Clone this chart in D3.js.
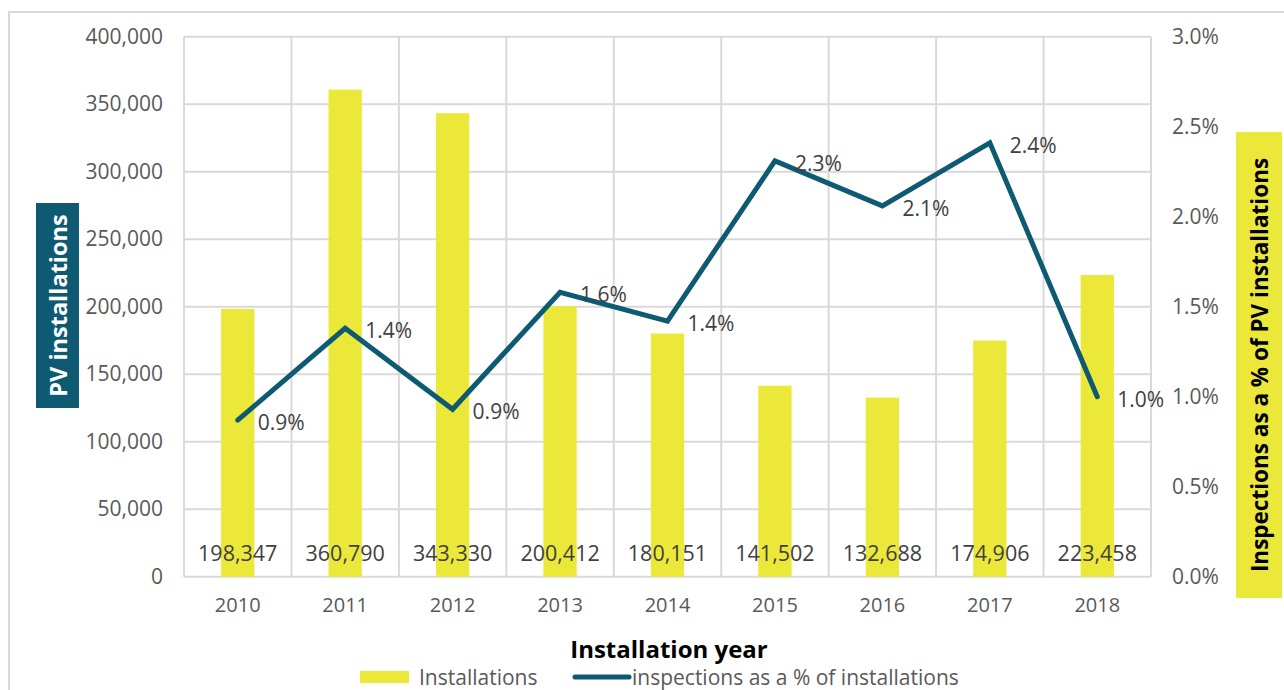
<!DOCTYPE html>
<html>
<head>
<meta charset="utf-8">
<script src="https://cdn.jsdelivr.net/npm/d3@7"></script>
<style>
  html, body { margin: 0; padding: 0; background: #fff; }
  svg { display: block; font-family: "Open Sans", sans-serif; }
</style>
</head>
<body>
<svg id="chart" width="1284" height="690"></svg>
<script>
// PV installations per year and inspections as a share of installations
const years = ["2010", "2011", "2012", "2013", "2014", "2015", "2016", "2017", "2018"];
const installations = [198347, 360790, 343330, 200412, 180151, 141502, 132688, 174906, 223458];
const inspectionPct = [0.0087, 0.0138, 0.0093, 0.0158, 0.0142, 0.0231, 0.0206, 0.0241, 0.0100];
const leftTicks = [0, 50000, 100000, 150000, 200000, 250000, 300000, 350000, 400000];
const rightTicks = [0, 0.005, 0.01, 0.015, 0.02, 0.025, 0.03];

const YELLOW = "#ECE83A";
const TEAL = "#0D5A72";
const GRID = "#D9D9D9";
const TICK_TXT = "#595959";
const LABEL_TXT = "#404040";

const svg = d3.select("#chart");
const W = 1284, H = 690;
const plot = { left: 184, right: 1151, top: 36.7, bottom: 576.7 };

// outer chart frame
svg.append("rect")
  .attr("x", 9).attr("y", 12)
  .attr("width", W + 20).attr("height", H + 20)
  .attr("fill", "none").attr("stroke", GRID).attr("stroke-width", 2);

const x = d3.scaleBand().domain(years).range([plot.left, plot.right]).padding(0);
const yL = d3.scaleLinear().domain([0, 400000]).range([plot.bottom, plot.top]);
const yR = d3.scaleLinear().domain([0, 0.03]).range([plot.bottom, plot.top]);

// horizontal gridlines
svg.append("g").selectAll("line").data(leftTicks).join("line")
  .attr("x1", plot.left).attr("x2", plot.right)
  .attr("y1", d => yL(d)).attr("y2", d => yL(d))
  .attr("stroke", GRID).attr("stroke-width", 2);

// vertical gridlines at category boundaries
const bounds = years.map(d => x(d)).concat([x(years[years.length - 1]) + x.bandwidth()]);
svg.append("g").selectAll("line").data(bounds).join("line")
  .attr("x1", d => d).attr("x2", d => d)
  .attr("y1", plot.top).attr("y2", plot.bottom)
  .attr("stroke", GRID).attr("stroke-width", 2);

// bars
const barW = x.bandwidth() * 0.31;
svg.append("g").selectAll("rect").data(installations).join("rect")
  .attr("x", (d, i) => x(years[i]) + x.bandwidth() / 2 - barW / 2)
  .attr("y", d => yL(d))
  .attr("width", barW)
  .attr("height", d => yL(0) - yL(d))
  .attr("fill", YELLOW);

// bar value labels near the base
const fmtInt = d3.format(",");
svg.append("g").selectAll("text").data(installations).join("text")
  .attr("x", (d, i) => x(years[i]) + x.bandwidth() / 2)
  .attr("y", 552)
  .attr("text-anchor", "middle").attr("dominant-baseline", "central")
  .attr("font-size", 21.5).attr("fill", LABEL_TXT)
  .text(d => fmtInt(d));

// left axis
const axisL = d3.axisLeft(yL).tickValues(leftTicks).tickFormat(d3.format(",")).tickSize(0).tickPadding(21);
const gL = svg.append("g").attr("transform", `translate(${plot.left},0)`).call(axisL);
gL.select(".domain").remove();
gL.selectAll("text").attr("font-size", 21).attr("fill", TICK_TXT).attr("font-family", "Open Sans");

// right axis
const axisR = d3.axisRight(yR).tickValues(rightTicks).tickFormat(d3.format(".1%")).tickSize(0).tickPadding(21);
const gR = svg.append("g").attr("transform", `translate(${plot.right},0)`).call(axisR);
gR.select(".domain").remove();
gR.selectAll("text").attr("font-size", 21).attr("fill", TICK_TXT).attr("font-family", "Open Sans");

// bottom axis
const axisB = d3.axisBottom(x).tickSize(0).tickPadding(21);
const gB = svg.append("g").attr("transform", `translate(0,${plot.bottom})`).call(axisB);
gB.select(".domain").remove();
gB.selectAll("text").attr("font-size", 20).attr("fill", TICK_TXT).attr("font-family", "Open Sans");

// percentage line
const line = d3.line()
  .x((d, i) => x(years[i]) + x.bandwidth() / 2)
  .y(d => yR(d));
svg.append("path").datum(inspectionPct)
  .attr("d", line)
  .attr("fill", "none").attr("stroke", TEAL).attr("stroke-width", 5)
  .attr("stroke-linecap", "round").attr("stroke-linejoin", "miter");

// percentage labels
const fmtPct = d3.format(".1%");
svg.append("g").selectAll("text").data(inspectionPct).join("text")
  .attr("x", (d, i) => x(years[i]) + x.bandwidth() / 2 + 20)
  .attr("y", d => yR(d) + 2)
  .attr("dominant-baseline", "central")
  .attr("font-size", 21).attr("fill", LABEL_TXT)
  .text(d => fmtPct(d));

// axis titles on coloured boxes
function boxedTitle(text, box, fill, color, size) {
  svg.append("rect")
    .attr("x", box.x0).attr("y", box.y0)
    .attr("width", box.x1 - box.x0).attr("height", box.y1 - box.y0)
    .attr("fill", fill);
  const cx = (box.x0 + box.x1) / 2, cy = (box.y0 + box.y1) / 2;
  svg.append("text")
    .attr("transform", `translate(${cx},${cy}) rotate(-90)`)
    .attr("text-anchor", "middle").attr("dominant-baseline", "central")
    .attr("font-size", size).attr("font-weight", 700).attr("fill", color)
    .text(text);
}
boxedTitle("PV installations", { x0: 36, x1: 79, y0: 203, y1: 408 }, TEAL, "#fff", 23.5);
boxedTitle("Inspections as a % of PV installations", { x0: 1236, x1: 1282, y0: 132, y1: 598 }, YELLOW, "#000", 22.5);

// x axis title
svg.append("text")
  .attr("x", 669).attr("y", 648)
  .attr("text-anchor", "middle").attr("dominant-baseline", "central")
  .attr("font-size", 24).attr("font-weight", 700).attr("fill", "#000")
  .text("Installation year");

// legend
const lg = svg.append("g");
lg.append("rect").attr("x", 360).attr("y", 671).attr("width", 49).attr("height", 12).attr("fill", YELLOW);
lg.append("text").attr("x", 419).attr("y", 677).attr("dominant-baseline", "central")
  .attr("font-size", 21).attr("fill", TICK_TXT).text("Installations");
lg.append("line").attr("x1", 575).attr("x2", 629).attr("y1", 677).attr("y2", 677)
  .attr("stroke", TEAL).attr("stroke-width", 5).attr("stroke-linecap", "round");
lg.append("text").attr("x", 632).attr("y", 677).attr("dominant-baseline", "central")
  .attr("font-size", 21).attr("fill", TICK_TXT).text("inspections as a % of installations");
</script>
</body>
</html>
